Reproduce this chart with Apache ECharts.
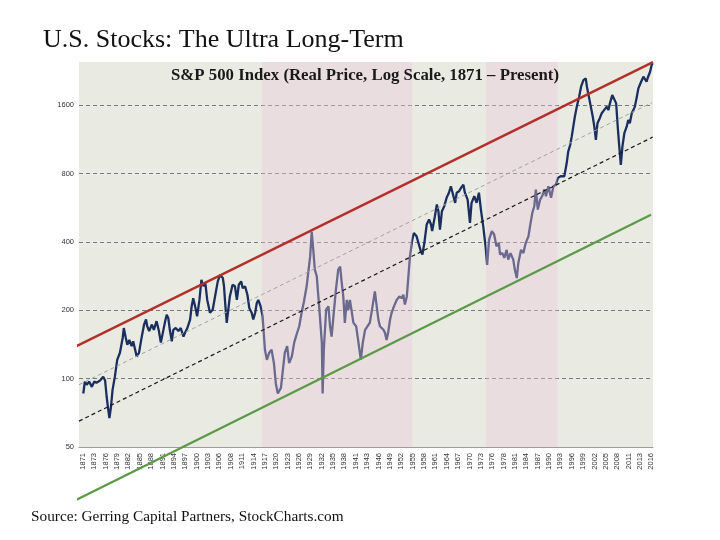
<!DOCTYPE html>
<html><head><meta charset="utf-8">
<script src="https://cdn.jsdelivr.net/npm/echarts@6/dist/echarts.min.js"></script>
<style>html,body{margin:0;padding:0;background:#fff}#c{width:720px;height:540px}</style>
</head><body><div id="c"></div>
<script>
// ---- data (real S&P 500 price, log scale) ----
const years = [1871.1,1871.5,1872.0,1872.6,1873.3,1873.9,1874.5,1875.4,1876.2,1876.7,1877.1,1877.5,1877.8,1878.2,1878.6,1879.2,1879.8,1880.5,1881.2,1881.5,1882.0,1882.4,1882.9,1883.5,1883.9,1884.4,1884.8,1885.4,1886.1,1886.7,1887.2,1887.5,1888.0,1888.7,1889.2,1889.9,1890.5,1891.0,1891.5,1892.1,1892.5,1892.9,1893.3,1893.8,1894.2,1894.8,1895.5,1896.1,1896.8,1897.2,1897.8,1898.5,1898.9,1899.3,1899.9,1900.3,1900.9,1901.4,1901.9,1902.4,1902.9,1903.6,1904.3,1904.9,1905.6,1906.2,1906.9,1907.2,1907.5,1907.9,1908.3,1908.7,1909.4,1910.0,1910.5,1911.0,1911.6,1912.0,1912.6,1913.2,1913.7,1914.3,1914.7,1915.2,1915.6,1916.0,1916.6,1917.1,1917.7,1918.2,1918.8,1919.4,1920.0,1920.5,1921.0,1921.8,1922.4,1922.8,1923.4,1923.9,1924.6,1925.2,1925.8,1926.5,1927.1,1927.7,1928.4,1928.8,1929.3,1929.7,1930.1,1930.5,1931.0,1931.4,1931.8,1932.3,1932.5,1932.8,1933.4,1934.0,1934.4,1934.8,1935.2,1935.9,1936.5,1937.0,1937.4,1937.8,1938.2,1938.7,1939.1,1939.5,1940.4,1941.1,1941.6,1942.3,1942.8,1943.4,1944.0,1944.6,1945.3,1945.9,1946.4,1946.8,1947.2,1947.6,1948.1,1948.5,1948.9,1949.3,1949.8,1950.2,1950.8,1951.5,1952.2,1952.8,1953.2,1953.6,1954.1,1954.5,1954.9,1955.5,1955.9,1956.6,1957.0,1957.7,1958.1,1958.6,1959.2,1959.8,1960.3,1960.6,1961.3,1961.8,1962.2,1962.6,1963.1,1963.7,1964.3,1964.9,1965.4,1965.9,1966.5,1966.9,1967.5,1968.0,1968.6,1969.0,1969.7,1970.3,1970.7,1971.4,1972.0,1972.6,1973.1,1973.7,1974.3,1974.7,1975.2,1975.9,1976.5,1977.1,1977.7,1978.0,1978.6,1979.1,1979.7,1980.1,1980.7,1981.4,1981.8,1982.3,1982.7,1983.4,1984.0,1984.6,1985.3,1985.7,1986.3,1986.8,1987.2,1987.7,1988.3,1988.8,1989.4,1989.8,1990.4,1991.1,1991.7,1992.3,1992.9,1993.7,1994.5,1995.1,1995.5,1996.0,1996.4,1996.8,1997.2,1997.7,1998.3,1998.8,1999.4,2000.0,2000.3,2000.8,2001.3,2001.8,2002.2,2002.6,2003.0,2003.6,2004.1,2004.7,2005.4,2005.8,2006.2,2006.8,2007.3,2007.8,2008.2,2008.6,2009.0,2009.4,2009.9,2010.5,2010.9,2011.3,2011.8,2012.2,2012.6,2013.1,2013.5,2014.2,2014.8,2015.2,2015.6,2016.0,2016.5,2016.9,2017.2];
const prices = [86,97,94,97,92,97,96,98,102,98,83,73,67,75,89,102,121,130,151,167,151,141,148,139,146,134,125,130,153,173,182,170,162,173,164,179,162,144,159,179,191,185,164,146,164,167,162,167,153,159,167,182,208,226,204,188,222,272,255,264,222,195,201,230,268,286,277,255,215,176,201,230,259,255,222,259,268,250,255,234,204,195,182,195,215,222,208,188,134,121,130,134,117,95,86,91,113,130,139,117,125,144,156,170,195,218,255,292,345,443,369,302,282,230,188,144,86,134,201,208,170,153,182,246,302,311,264,230,176,222,201,222,176,170,148,121,144,164,170,176,208,242,238,182,170,173,164,159,148,159,182,195,208,222,230,226,234,212,230,282,345,409,438,423,416,363,352,396,477,502,477,446,519,584,546,453,546,574,625,658,703,714,594,658,668,691,714,658,614,485,594,635,594,658,555,468,382,317,409,446,431,382,396,352,357,340,369,334,357,334,302,277,323,369,357,396,423,468,537,574,680,555,614,635,680,635,703,625,703,714,766,779,777,887,998,1068,1162,1286,1422,1575,1741,1927,2062,2098,1927,1741,1575,1422,1286,1124,1331,1401,1474,1520,1575,1520,1628,1771,1802,1628,1286,1050,872,1050,1203,1286,1377,1331,1474,1520,1575,1741,1896,2027,2133,2098,2027,2133,2243,2400,2445];
const xTickLabels = ['1871','1873','1876','1879','1882','1885','1888','1891','1894','1897','1900','1903','1906','1908','1911','1914','1917','1920','1923','1926','1929','1932','1935','1938','1941','1943','1946','1949','1952','1955','1958','1961','1964','1967','1970','1973','1976','1978','1981','1984','1987','1990','1993','1996','1999','2002','2005','2008','2011','2013','2016'];
const yTickValues = [50,100,200,400,800,1600];
const bearPeriods = [[1916.9,1955.5],[1974.4,1992.75]];
const upperBand = [[1869.0,138],[2017.25,2476]];
const midLine   = [[1870.0,94],[2017.0,1641]];
const trendLine = [[1870.0,65],[2017.17,1156]];
const lowerBand = [[1869.2,29.2],[2016.74,527]];

// ---- build ----
const BASE = 50;
const toLog = v => Math.log2(v / BASE);
const startYear = 1871, monthsPerLabel = 35;
const xTickPos = xTickLabels.map((_, i) => startYear + i * monthsPerLabel / 12);
const pair = arr => arr.map(p => [p[0], toLog(p[1])]);

const chart = echarts.init(document.getElementById('c'), null, {renderer: 'canvas'});
chart.setOption({
  animation: false,
  backgroundColor: '#ffffff',
  grid: {left: 79, right: 67, top: 62, bottom: 93, show: true, backgroundColor: '#e9ebe3', borderWidth: 0},
  xAxis: {
    type: 'value', min: 1870, max: 2017.25,
    splitLine: {show: false},
    axisTick: {show: false},
    axisLine: {show: true, lineStyle: {color: '#9c9c9c', width: 1}},
    axisLabel: {
      customValues: xTickPos, rotate: 90, margin: 6,
      fontFamily: 'Liberation Sans', fontSize: 7.5, color: '#333333',
      formatter: v => xTickLabels[Math.round((v - startYear) * 12 / monthsPerLabel)] || ''
    }
  },
  yAxis: {
    type: 'value', min: 0, max: 5.63, interval: 1,
    axisLine: {show: false}, axisTick: {show: false},
    splitLine: {show: true, showMinLine: false, showMaxLine: false, lineStyle: {color: '#7a7a7a', width: 1, type: [4, 3]}},
    axisLabel: {
      customValues: yTickValues.map(toLog), margin: 5,
      fontFamily: 'Liberation Sans', fontSize: 7.5, color: '#333333',
      formatter: v => { const i = Math.round(v); return Math.abs(v - i) < 1e-6 ? String(BASE * Math.pow(2, i)) : ''; }
    }
  },
  series: [
    {type: 'line', name: 'S&P 500 real', z: 2, data: years.map((y, i) => [y, toLog(prices[i])]),
     showSymbol: false, lineStyle: {color: '#1b2f5e', width: 2.3}},
    {type: 'line', name: 'bands', z: 3, data: [], markArea: {z: 3, silent: true,
      itemStyle: {color: 'rgba(236,200,222,0.38)', borderWidth: 0},
      data: bearPeriods.map(p => [{xAxis: p[0]}, {xAxis: p[1]}])}},
    {type: 'line', z: 5, data: pair(midLine), showSymbol: false, lineStyle: {color: '#a3a3a3', width: 1, type: [4, 3]}},
    {type: 'line', z: 5, data: pair(trendLine), showSymbol: false, lineStyle: {color: '#1a1a1a', width: 1.2, type: [4, 3]}},
    {type: 'line', z: 6, data: pair(upperBand), showSymbol: false, clip: false, lineStyle: {color: '#b3302a', width: 2.5}},
    {type: 'line', z: 6, data: pair(lowerBand), showSymbol: false, clip: false, lineStyle: {color: '#5a9a46', width: 2.2}}
  ],
  graphic: [
    {type: 'text', z: 10, style: {text: 'U.S. Stocks: The Ultra Long-Term', x: 43, y: 40, verticalAlign: 'middle', font: '26px "Liberation Serif"', fill: '#111'}},
    {type: 'text', z: 10, style: {text: 'S&P 500 Index (Real Price, Log Scale, 1871 \u2013 Present)', x: 365, y: 76, align: 'center', verticalAlign: 'middle', font: 'bold 16.8px "Liberation Serif"', fill: '#1a1a1a'}},
    {type: 'text', z: 10, style: {text: 'Source: Gerring Capital Partners, StockCharts.com', x: 31, y: 517, verticalAlign: 'middle', font: '15.3px "Liberation Serif"', fill: '#111'}}
  ]
});
</script></body></html>
